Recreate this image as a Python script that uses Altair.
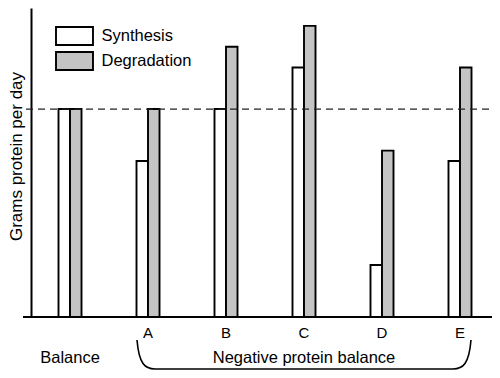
import altair as alt
import pandas as pd

categories = ["Balance", "A", "B", "C", "D", "E"]
synthesis = [10, 7.5, 10, 12, 2.5, 7.5]
degradation = [10, 10, 13, 14, 8, 12]
series = ["Synthesis", "Degradation"]
normal_level = 10

rows = []
for c, s, d in zip(categories, synthesis, degradation):
    rows.append({"cat": c, "series": "Synthesis", "value": s})
    rows.append({"cat": c, "series": "Degradation", "value": d})
df = pd.DataFrame(rows)

FONT = "Liberation Sans"
W, H = 461, 309

xscale = alt.Scale(domain=categories, paddingInner=0.705, paddingOuter=0.3077, align=0.573)
yscale = alt.Scale(domain=[0, 14.86], nice=False, zero=True)

bars = alt.Chart(df).mark_bar(stroke="black", strokeWidth=1.9, opacity=1).encode(
    x=alt.X("cat:N", scale=xscale, sort=categories,
            axis=alt.Axis(title=None, ticks=False, domain=False, labelAngle=0,
                          labelFontSize=15, labelFont=FONT, labelColor="black",
                          labelPadding=8, labelOverlap=False,
                          labelExpr="datum.value == 'Balance' ? '' : datum.value")),
    xOffset=alt.XOffset("series:N", sort=series,
                        scale=alt.Scale(domain=series, paddingInner=0, paddingOuter=0)),
    y=alt.Y("value:Q", scale=yscale,
            axis=alt.Axis(title="Grams protein per day", labels=False, ticks=False,
                          grid=False, domainColor="black", domainWidth=2,
                          titleFontSize=17, titleFontWeight="normal", titleFont=FONT,
                          titleColor="black", titlePadding=6, titleY=148)),
    color=alt.Color("series:N", sort=series,
                    scale=alt.Scale(domain=series, range=["white", "#c4c4c4"]),
                    legend=alt.Legend(title=None, orient="none", legendX=24, legendY=18,
                                      symbolType="M-1,-1H3.11V1H-1Z", symbolSize=324,
                                      symbolStrokeColor="black", symbolStrokeWidth=1.9,
                                      symbolOpacity=1,
                                      labelFontSize=16.5, labelFont=FONT, labelColor="black",
                                      labelOffset=26.5, rowPadding=-1)),
)

base_df = pd.DataFrame({"level": [0]})
baseline = alt.Chart(base_df).mark_rule(color="black", strokeWidth=2).encode(
    y=alt.Y("level:Q", scale=yscale), x=alt.value(-8), x2=alt.value(W)
)

dash_df = pd.DataFrame({"level": [normal_level]})
dashed = alt.Chart(dash_df).mark_rule(color="#222222", strokeWidth=1.3, strokeDash=[7, 5]).encode(
    y=alt.Y("level:Q", scale=yscale), x=alt.value(-5), x2=alt.value(W)
)

ann_df = pd.DataFrame({"cat": ["Balance", "C"], "text": ["Balance", "Negative protein balance"]})
ann = alt.Chart(ann_df).mark_text(fontSize=16.5, font=FONT, color="black", baseline="middle").encode(
    x=alt.X("cat:N", scale=xscale, sort=categories), y=alt.value(350), text="text:N"
)

brace_df = pd.DataFrame({"cat": ["C"]})
brace_path = ("M-1,-0.0868C-0.988,0.057,-0.952,0.0868,-0.892,0.0868"
              "L0.892,0.0868C0.952,0.0868,0.988,0.057,1,-0.0868")
brace = alt.Chart(brace_df).mark_point(shape=brace_path, size=111556, filled=False,
                                       stroke="black", strokeWidth=1.6, opacity=1).encode(
    x=alt.X("cat:N", scale=xscale, sort=categories), y=alt.value(346.5)
)

chart = alt.layer(bars, baseline, dashed, ann, brace).properties(
    width=W, height=H,
    autosize=alt.AutoSizeParams(type="none"),
    padding={"left": 23, "top": 0, "right": 0, "bottom": 53},
).configure_view(strokeWidth=0)

chart.save("out.html", embed_options={"renderer": "svg", "actions": False})
